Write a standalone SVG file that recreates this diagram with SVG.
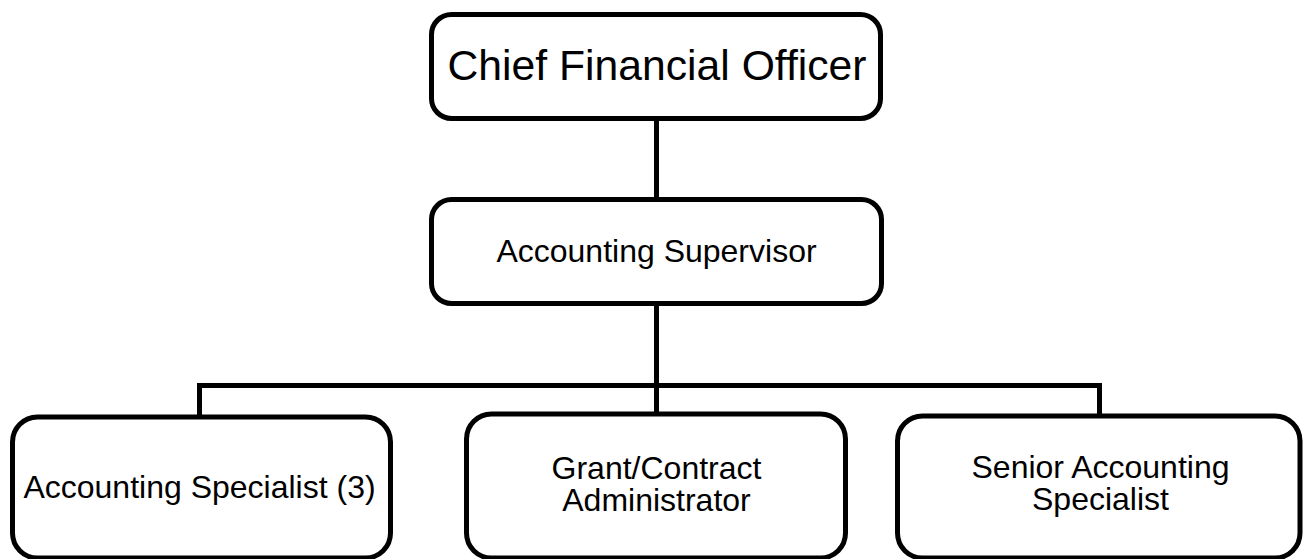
<svg xmlns="http://www.w3.org/2000/svg" width="1303" height="559" viewBox="0 0 1303 559">
<style>
.box{fill:#fff;stroke:#000;stroke-width:5}
.conn{fill:none;stroke:#000;stroke-width:5;stroke-linecap:butt;stroke-linejoin:miter}
.t{font-family:"Liberation Sans",Arial,sans-serif;fill:#000;text-anchor:middle}
.big{font-size:42.7px}
.med{font-size:32px}
</style>
<rect width="1303" height="559" fill="#fff"/>
<g id="connectors">
<path class="conn" d="M656.5 118 V200"/>
<path class="conn" d="M656.5 304 V414"/>
<path class="conn" d="M199.5 417 V385.5 H1099.5 V416"/>
</g>
<g id="cfo">
<rect class="box" x="431.5" y="14.5" width="449" height="104" rx="20" ry="20"/>
<text class="t big" x="657" y="80">Chief Financial Officer</text>
</g>
<g id="supervisor">
<rect class="box" x="431.5" y="199.5" width="450" height="104" rx="20" ry="20"/>
<text class="t med" x="656.5" y="262">Accounting Supervisor</text>
</g>
<g id="specialist">
<rect class="box" x="12.5" y="417" width="378" height="141" rx="25" ry="25"/>
<text class="t med" x="199.5" y="498">Accounting Specialist (3)</text>
</g>
<g id="grant">
<rect class="box" x="466.5" y="414" width="379" height="144" rx="25" ry="25"/>
<text class="t med" x="656.5" y="479">Grant/Contract</text>
<text class="t med" x="656.5" y="511">Administrator</text>
</g>
<g id="senior">
<rect class="box" x="897.5" y="416" width="402.5" height="142" rx="25" ry="25"/>
<text class="t med" x="1100.5" y="478">Senior Accounting</text>
<text class="t med" x="1100.5" y="510">Specialist</text>
</g>
</svg>
